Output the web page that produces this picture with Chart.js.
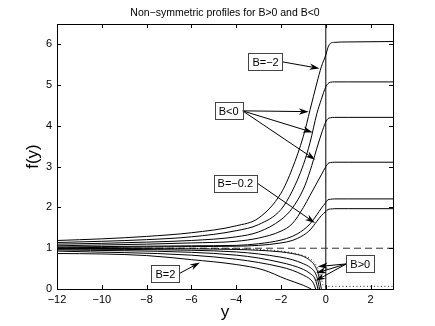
<!DOCTYPE html>
<html><head><meta charset="utf-8">
<script src="https://cdn.jsdelivr.net/npm/chart.js@4.4.1/dist/chart.umd.min.js"></script>
<style>html,body{margin:0;padding:0;background:#fff;}#wrap{width:435px;height:326px;position:relative;}canvas{display:block;}</style>
</head><body><div id="wrap"><canvas id="c" width="435" height="326" style="width:435px;height:326px"></canvas></div>
<script>
// ---- data ----
const titleText = 'Non\u2212symmetric profiles for B>0 and B<0';
const xTitle = 'y';
const yTitle = 'f(y)';

// B<0 profiles (common sample abscissae)
const yNeg  = [-12,-10,-8,-6,-4,-3,-2,-1.5,-1,-0.7,-0.4,-0.2,0,0.1,0.2,0.4,1,3];
const fNeg1 = [1.19,1.23,1.29,1.38,1.55,1.74,2.35,2.95,3.75,4.4,5.05,5.45,5.74,5.93,6.02,6.05,6.06,6.07];
const fNeg2 = [1.14,1.17,1.21,1.28,1.43,1.58,1.95,2.4,3.05,3.6,4.3,4.65,4.96,5.04,5.07,5.08,5.08,5.08];
const fNeg3 = [1.10,1.12,1.15,1.19,1.28,1.4,1.7,1.98,2.45,2.9,3.45,3.8,4.1,4.18,4.2,4.21,4.21,4.21];
const fNeg4 = [1.06,1.08,1.1,1.13,1.17,1.25,1.42,1.6,2.0,2.3,2.6,2.8,3.0,3.08,3.1,3.11,3.11,3.11];
const fNeg5 = [1.03,1.04,1.05,1.06,1.07,1.11,1.2,1.29,1.45,1.6,1.82,1.98,2.12,2.19,2.2,2.21,2.21,2.21];
const fNeg6 = [1.01,1.02,1.03,1.04,1.05,1.07,1.13,1.19,1.32,1.45,1.66,1.8,1.9,1.95,1.96,1.97,1.97,1.97];

// B>0 profiles
const yPos1 = [-12,-6,-4,-3,-2,-1.5,-1,-0.7,-0.5,-0.35,-0.25,-0.2];
const fPos1 = [0.995,0.985,0.97,0.95,0.91,0.87,0.8,0.7,0.58,0.4,0.15,0];
const yPos2 = [-12,-6,-4,-3,-2,-1.5,-1,-0.7,-0.5,-0.4,-0.32,-0.28];
const fPos2 = [0.98,0.95,0.91,0.86,0.78,0.72,0.62,0.53,0.42,0.3,0.12,0];
const yPos3 = [-12,-6,-4,-3,-2,-1.5,-1,-0.7,-0.5,-0.42,-0.35];
const fPos3 = [0.96,0.9,0.83,0.76,0.65,0.58,0.48,0.38,0.27,0.15,0];
const yPos4 = [-12,-6,-4,-3,-2,-1.5,-1,-0.7,-0.55,-0.45];
const fPos4 = [0.93,0.83,0.73,0.65,0.54,0.46,0.34,0.24,0.14,0];
const yPos5 = [-12,-10,-8,-6,-4,-2.8,-1.76,-1,-0.65];   // B=2
const fPos5 = [0.87,0.86,0.82,0.72,0.6,0.47,0.24,0.09,0];

// limiting (dotted) profile
const yLim = [-12,-4,-3,-2,-1.2,-0.6,-0.35,-0.2,-0.1,0,3];
const fLim = [1.0,0.99,0.97,0.93,0.85,0.7,0.5,0.25,0.07,0.065,0.065];

// reference lines
const yRefH = [-12,3];   const fRefH = [1,1];     // f = 1 (dashed)
const yRefV = [0,0];     const fRefV = [0,6.5];   // y = 0 (solid)

const xTicks = [-12,-10,-8,-6,-4,-2,0,2];
const yTicks = [0,1,2,3,4,5,6];

// annotation boxes (data coords) and arrow tips (data coords)
const notes = [
  {text:'B=\u22122',   at:[-2.69,5.57], tips:[[-0.28,5.41]]},
  {text:'B<0',         at:[-4.34,4.37], tips:[[-0.76,4.35],[-0.58,3.84],[-0.47,3.17]]},
  {text:'B=\u22120.2', at:[-4.04,2.60], tips:[[-0.48,1.62]]},
  {text:'B=2',         at:[-7.16,0.38], tips:[[-5.62,0.65]]},
  {text:'B>0',         at:[1.54,0.615], tips:[[-0.36,0.55],[-0.43,0.39],[-0.46,0.20]]}
];

// ---- build chart ----
const FONT = '"Liberation Sans", Arial, Helvetica, sans-serif';
const zip = (xs, ys) => xs.map((x,i)=>({x:x, y:ys[i]}));
const curve = (xs, ys) => ({data: zip(xs,ys), borderColor:'#000', borderWidth:1, pointRadius:0, fill:false, cubicInterpolationMode:'monotone'});

const datasets = [
  curve(yNeg,fNeg1), curve(yNeg,fNeg2), curve(yNeg,fNeg3), curve(yNeg,fNeg4), curve(yNeg,fNeg5), curve(yNeg,fNeg6),
  curve(yPos1,fPos1), curve(yPos2,fPos2), curve(yPos3,fPos3), curve(yPos4,fPos4), curve(yPos5,fPos5),
  Object.assign(curve(yLim,fLim), {borderDash:[1,2.5], borderColor:'#222'}),
  Object.assign(curve(yRefH,fRefH), {borderDash:[7,4], borderColor:'#333', cubicInterpolationMode:'default', tension:0}),
  Object.assign(curve(yRefV,fRefV), {cubicInterpolationMode:'default', tension:0})
];

const minus = v => String(v).replace('-', '\u2212');

const decor = {
  id:'decor',
  afterDraw(chart){
    const {ctx, chartArea:a, scales:{x, y}} = chart;
    ctx.save();
    // frame
    ctx.strokeStyle = '#000'; ctx.lineWidth = 1;
    ctx.strokeRect(Math.round(a.left)+0.5, Math.round(a.top)+0.5, Math.round(a.right-a.left), Math.round(a.bottom-a.top));
    // inward ticks on all sides
    const tl = 4;
    ctx.beginPath();
    xTicks.forEach(v=>{ const px = Math.round(x.getPixelForValue(v))+0.5;
      ctx.moveTo(px, a.bottom); ctx.lineTo(px, a.bottom-tl);
      ctx.moveTo(px, a.top); ctx.lineTo(px, a.top+tl); });
    yTicks.forEach(v=>{ const py = Math.round(y.getPixelForValue(v))+0.5;
      ctx.moveTo(a.left, py); ctx.lineTo(a.left+tl, py);
      ctx.moveTo(a.right, py); ctx.lineTo(a.right-tl, py); });
    ctx.stroke();
    // titles
    ctx.fillStyle = '#000';
    ctx.textAlign = 'center'; ctx.textBaseline = 'middle';
    ctx.font = '10.5px ' + FONT;
    ctx.fillText(titleText, (a.left+a.right)/2, 13);
    ctx.font = '17px ' + FONT;
    ctx.fillText(xTitle, (a.left+a.right)/2, 312);
    ctx.save(); ctx.translate(33, (a.top+a.bottom)/2); ctx.rotate(-Math.PI/2);
    ctx.fillText(yTitle, 0, 0); ctx.restore();
    // annotations
    ctx.font = '11px ' + FONT;
    notes.forEach(n=>{
      const cx = x.getPixelForValue(n.at[0]), cy = y.getPixelForValue(n.at[1]);
      const tw = ctx.measureText(n.text).width;
      const w = tw + 8, h = 17;
      const bx = cx - w/2, by = cy - h/2;
      // arrows
      n.tips.forEach(t=>{
        const tx = x.getPixelForValue(t[0]), ty = y.getPixelForValue(t[1]);
        const sx = tx > cx ? bx + w : bx, sy = cy;
        const ang = Math.atan2(ty - sy, tx - sx);
        const L = 10, W = 3.2, notch = 7;
        ctx.strokeStyle = '#000'; ctx.lineWidth = 1;
        ctx.beginPath(); ctx.moveTo(sx, sy);
        ctx.lineTo(tx - Math.cos(ang)*notch, ty - Math.sin(ang)*notch); ctx.stroke();
        ctx.save(); ctx.translate(tx, ty); ctx.rotate(ang);
        ctx.beginPath(); ctx.moveTo(0,0); ctx.lineTo(-L, -W); ctx.lineTo(-notch, 0); ctx.lineTo(-L, W); ctx.closePath();
        ctx.fillStyle = '#000'; ctx.fill(); ctx.restore();
      });
      ctx.fillStyle = '#fff';
      ctx.fillRect(bx, by, w, h);
      ctx.strokeStyle = '#444'; ctx.lineWidth = 1;
      ctx.strokeRect(Math.round(bx)+0.5, Math.round(by)+0.5, Math.round(w), Math.round(h));
      ctx.fillStyle = '#000'; ctx.textAlign = 'center'; ctx.textBaseline = 'middle';
      ctx.fillText(n.text, cx, cy + 1);
    });
    ctx.restore();
  }
};

new Chart(document.getElementById('c'), {
  type:'line',
  data:{datasets:datasets},
  options:{
    responsive:false, animation:false, devicePixelRatio:1,
    parsing:true,
    layout:{padding:{left:8, right:42, top:24, bottom:4}},
    plugins:{legend:{display:false}, tooltip:{enabled:false}, title:{display:false}},
    scales:{
      x:{type:'linear', min:-12, max:3,
         grid:{display:false, drawTicks:false}, border:{display:false},
         ticks:{stepSize:2, includeBounds:false, padding:4, color:'#000', font:{family:FONT, size:11}, callback:minus, maxRotation:0},
         afterFit(s){ s.height = 33; }},
      y:{type:'linear', min:0, max:6.5,
         grid:{display:false, drawTicks:false}, border:{display:false},
         ticks:{stepSize:1, includeBounds:false, padding:5, color:'#000', font:{family:FONT, size:11}, callback:minus},
         afterFit(s){ s.width = 49; }}
    }
  },
  plugins:[decor]
});
</script>
</body></html>
